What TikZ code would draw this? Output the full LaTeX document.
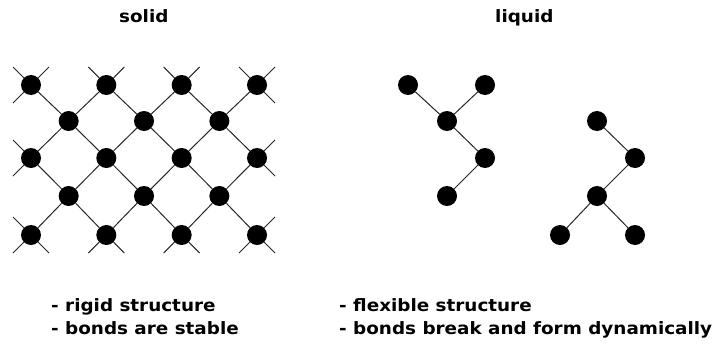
\documentclass[tikz,border=0pt]{standalone}
\usepackage{fontspec}
\setmainfont{DejaVu Sans}[FakeStretch=1.08]
\begin{document}
\begin{tikzpicture}[x=1pt,y=-1pt,
  atom/.style={circle,fill=black,minimum size=20pt,inner sep=0pt},
  bond/.style={line width=1pt,draw=black!85},
  txt/.style={font=\fontsize{17}{22}\selectfont\bfseries,inner sep=0pt,anchor=base west}]
\useasboundingbox (0,0) rectangle (720,343);

% headings
\node[txt] (tsolid) at (119,22) {solid};
\node[txt] (tliquid) at (495,22) {liquid};

% solid: diagonal lattice of atoms
\foreach \j/\y in {0/85,1/121,2/158,3/196,4/235}{
  \foreach \i in {0,...,6}{
    \pgfmathtruncatemacro\parity{mod(\i+\j,2)}
    \ifnum\parity=0
      \node[atom] (s-\i-\j) at ({31+37.67*\i},\y) {};
    \fi
  }
}

% solid: bonds between neighbouring atoms
\foreach \i in {0,...,5}{
  \foreach \j in {0,...,4}{
    \pgfmathtruncatemacro\parity{mod(\i+\j,2)}
    \pgfmathtruncatemacro\ni{\i+1}
    \pgfmathtruncatemacro\dn{\j+1}
    \pgfmathtruncatemacro\up{\j-1}
    \ifnum\parity=0
      \ifnum\j<4 \draw[bond] (s-\i-\j) -- (s-\ni-\dn); \fi
      \ifnum\j>0 \draw[bond] (s-\i-\j) -- (s-\ni-\up); \fi
    \fi
  }
}

% solid: bonds leaving the edge of the lattice
\foreach \i in {0,...,6}{
  \foreach \j in {0,...,4}{
    \pgfmathtruncatemacro\parity{mod(\i+\j,2)}
    \ifnum\parity=0
      \pgfmathtruncatemacro\ul{(\i==0)||(\j==0)}
      \pgfmathtruncatemacro\ur{(\i==6)||(\j==0)}
      \pgfmathtruncatemacro\dl{(\i==0)||(\j==4)}
      \pgfmathtruncatemacro\dr{(\i==6)||(\j==4)}
      \ifnum\ul=1
        \coordinate (s-\i-\j-ul) at ([shift={(-18,-18)}]s-\i-\j.center);
        \draw[bond] (s-\i-\j) -- (s-\i-\j-ul);
      \fi
      \ifnum\ur=1
        \coordinate (s-\i-\j-ur) at ([shift={(18,-18)}]s-\i-\j.center);
        \draw[bond] (s-\i-\j) -- (s-\i-\j-ur);
      \fi
      \ifnum\dl=1
        \coordinate (s-\i-\j-dl) at ([shift={(-18,18)}]s-\i-\j.center);
        \draw[bond] (s-\i-\j) -- (s-\i-\j-dl);
      \fi
      \ifnum\dr=1
        \coordinate (s-\i-\j-dr) at ([shift={(18,18)}]s-\i-\j.center);
        \draw[bond] (s-\i-\j) -- (s-\i-\j-dr);
      \fi
    \fi
  }
}

% liquid: first fragment
\node[atom] (a1) at (408,85) {};
\node[atom] (a2) at (485,85) {};
\node[atom] (a3) at (447,121) {};
\node[atom] (a4) at (485,158) {};
\node[atom] (a5) at (447,196) {};
\draw[bond] (a1) -- (a3);
\draw[bond] (a2) -- (a3);
\draw[bond] (a3) -- (a4);
\draw[bond] (a4) -- (a5);

% liquid: second fragment
\node[atom] (b1) at (597,121) {};
\node[atom] (b2) at (635,158) {};
\node[atom] (b3) at (597,196) {};
\node[atom] (b4) at (560,235) {};
\node[atom] (b5) at (635,235) {};
\draw[bond] (b1) -- (b2);
\draw[bond] (b2) -- (b3);
\draw[bond] (b3) -- (b4);
\draw[bond] (b3) -- (b5);

% properties
\node[txt] (p1) at (51,311) {- rigid structure};
\node[txt] (p2) at (51,334) {- bonds are stable};
\node[txt] (p3) at (339,311) {- flexible structure};
\node[txt] (p4) at (339,334) {- bonds break and form dynamically};
\end{tikzpicture}
\end{document}
